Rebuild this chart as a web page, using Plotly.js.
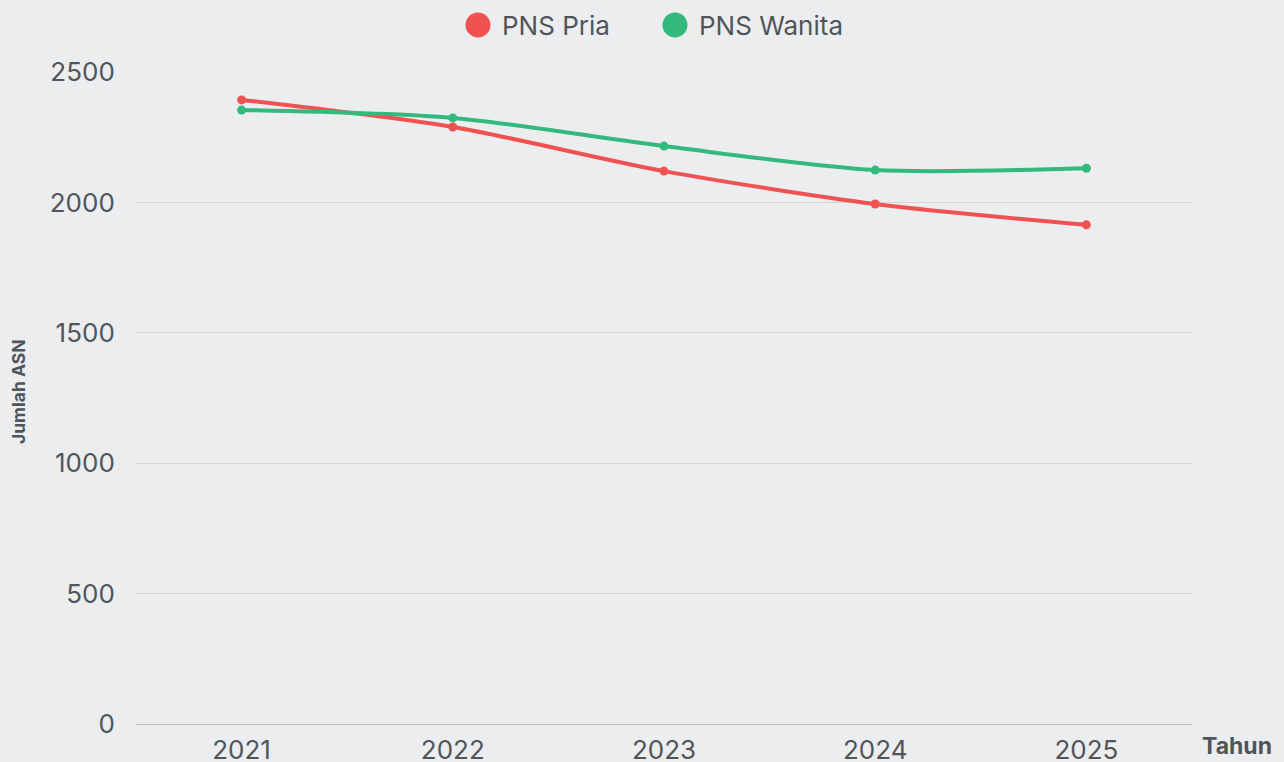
<!DOCTYPE html>
<html>
<head>
<meta charset="utf-8">
<script src="https://cdn.plot.ly/plotly-3.0.1.min.js"></script>
<style>
html,body{margin:0;padding:0;background:#ecedef;}
#chart{width:1284px;height:762px;}
</style>
</head>
<body>
<div id="chart"></div>
<script>
const years = [2021, 2022, 2023, 2024, 2025];
const pnsPria = [2393, 2289, 2120, 1994, 1914];
const pnsWanita = [2354, 2324, 2216, 2124, 2131];
const seriesNames = ['PNS Pria', 'PNS Wanita'];
const seriesColors = ['#f05252', '#33b97c'];

const font = 'Inter, "Noto Sans", sans-serif';
const textColor = '#50555a';

function trace(y, i) {
  return {
    x: years, y: y, name: seriesNames[i], type: 'scatter', mode: 'lines+markers',
    line: {color: seriesColors[i], width: 4, shape: 'spline', smoothing: 0.8},
    marker: {color: seriesColors[i], size: 9},
    showlegend: false, hoverinfo: 'x+y+name'
  };
}

// custom legend (circle + text) placed above the plot
const legendX = [478, 675];
const plotL = 136, plotR = 1192, plotT = 72, plotB = 724;
const px2x = p => (p - plotL) / (plotR - plotL);
const px2y = p => (plotB - p) / (plotB - plotT);

const shapes = seriesNames.map((n, i) => ({
  type: 'circle', xref: 'paper', yref: 'paper',
  xsizemode: 'pixel', ysizemode: 'pixel',
  xanchor: px2x(legendX[i]), yanchor: px2y(25),
  x0: -12.5, x1: 12.5, y0: -12.5, y1: 12.5,
  fillcolor: seriesColors[i], line: {width: 0}
}));

const annotations = seriesNames.map((n, i) => ({
  text: n, xref: 'paper', yref: 'paper', x: px2x(legendX[i] + 22), y: px2y(25),
  xanchor: 'left', yanchor: 'middle', showarrow: false,
  font: {family: font, size: 26, color: textColor}
}));
annotations.push({
  text: '<b>Tahun</b>', xref: 'paper', yref: 'paper', x: px2x(1200), y: px2y(746),
  xanchor: 'left', yanchor: 'middle', showarrow: false,
  font: {family: font, size: 23, color: textColor}
});
annotations.push({
  text: '<b>Jumlah ASN</b>', xref: 'paper', yref: 'paper', x: px2x(18), y: px2y(392),
  xanchor: 'center', yanchor: 'middle', showarrow: false, textangle: -90,
  font: {family: font, size: 17.5, color: textColor}
});

const layout = {
  width: 1284, height: 762,
  paper_bgcolor: '#ecedef', plot_bgcolor: '#ecedef',
  margin: {l: plotL, r: 1284 - plotR, t: plotT, b: 762 - plotB},
  font: {family: font, color: textColor},
  showlegend: false,
  xaxis: {
    range: [2020.5, 2025.5], tickvals: years, ticktext: years.map(String),
    showgrid: false, zeroline: false,
    showline: true, linecolor: '#b9bbbf', linewidth: 1,
    ticks: 'outside', ticklen: 3, tickcolor: 'rgba(0,0,0,0)',
    tickfont: {family: font, size: 26, color: textColor}
  },
  yaxis: {
    range: [0, 2500], tickvals: [0, 500, 1000, 1500, 2000, 2500],
    showgrid: true, gridcolor: '#d3d4d7', gridwidth: 1, zeroline: false,
    showline: false,
    ticks: 'outside', ticklen: 15, tickcolor: 'rgba(0,0,0,0)',
    tickfont: {family: font, size: 26, color: textColor}
  },
  shapes: shapes,
  annotations: annotations
};

Plotly.newPlot('chart', [trace(pnsPria, 0), trace(pnsWanita, 1)], layout, {displayModeBar: false, staticPlot: true});
</script>
</body>
</html>
